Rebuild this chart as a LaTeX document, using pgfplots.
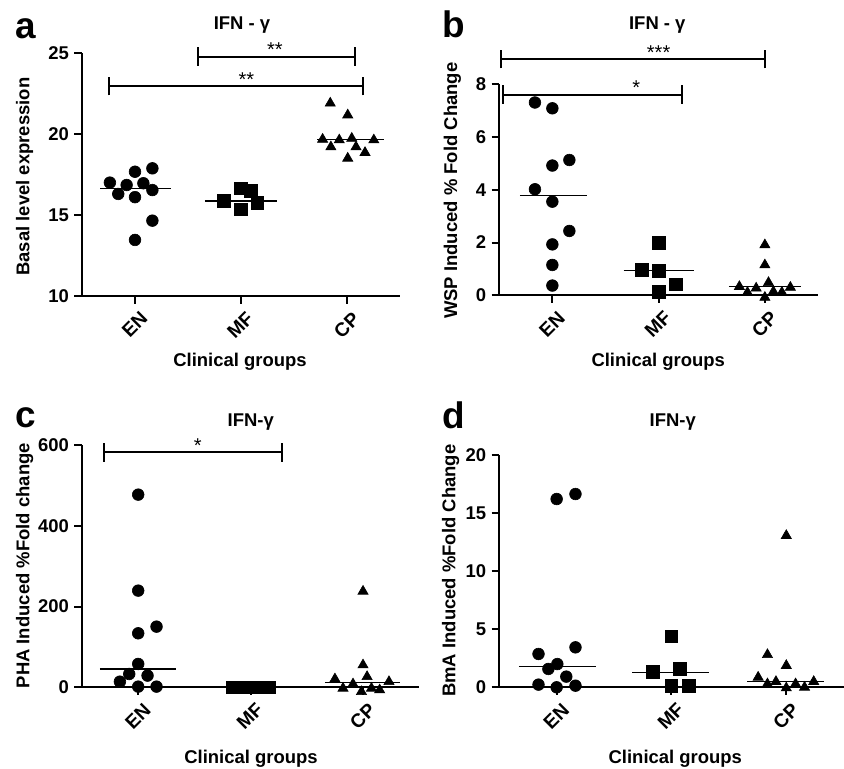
\documentclass[border=0pt]{standalone}
\usepackage{fontspec}
\setmainfont{Liberation Sans}
\usepackage{pgfplots}
\pgfplotsset{compat=1.18}

\newcommand\lab{\fontsize{12}{14}\selectfont\bfseries}
\newcommand\letter{\fontsize{24}{26}\selectfont\bfseries}
\newcommand\stars{\fontsize{13}{15}\selectfont}

% significance bracket: x1, x2, y, star x, stars
\newcommand\sigbar[5]{%
  \draw[line width=1.3pt] (axis cs:#1,#3) -- (axis cs:#2,#3);
  \draw[line width=1.3pt] ([yshift=-6pt]axis cs:#1,#3) -- ([yshift=6pt]axis cs:#1,#3);
  \draw[line width=1.3pt] ([yshift=-6pt]axis cs:#2,#3) -- ([yshift=6pt]axis cs:#2,#3);
  \node[anchor=base, font=\stars, inner sep=0pt] at (axis cs:#4,#3) {#5};
}

\pgfplotsset{
  panel/.style={
    scale only axis,
    axis x line=bottom, axis y line=left,
    axis line style={-, line width=1.3pt},
    every tick/.style={black, line width=1.3pt},
    tick align=outside, major tick length=5pt,
    xmin=-0.5, xmax=2.5,
    xtick={0,1,2}, xticklabels={EN,MF,CP},
    x tick label style={rotate=45, anchor=north east, font=\fontsize{12.5}{14}\selectfont\bfseries, inner sep=2pt, yshift=-3pt, xshift=1pt},
    y tick label style={font=\fontsize{12}{14}\selectfont\bfseries},
    /pgf/number format/assume math mode=true,
    clip=false,
  },
  dots/.style={only marks, mark=*, mark size=3.8pt, black},
  sq/.style={only marks, mark=square*, mark size=4.1pt, black},
  tri/.style={only marks, mark=triangle*, mark size=3.8pt, black},
  med/.style={black, line width=0.8pt, no marks},
}

\begin{document}
\begin{tikzpicture}
\useasboundingbox (0,0) rectangle (548.6pt,499.85pt);

% a
\begin{axis}[panel, at={(53.3pt,307.45pt)}, anchor=south west,
  width=206.7pt, height=157.95pt, ymin=10, ymax=25, ytick={10,15,20,25}]
  \addplot[dots] coordinates {(-0.237,17.0) (-0.158,16.3) (-0.079,16.85) (0,17.67) (0,16.1)
    (0.079,16.96) (0.164,17.88) (0.164,16.54) (0.164,14.65) (0,13.46)};
  \addplot[sq] coordinates {(0.84,15.86) (1,16.65) (1.09,16.5) (1,15.35) (1.155,15.76)};
  \addplot[tri] coordinates {(1.842,21.9) (2.007,21.17) (1.77,19.67) (1.848,19.2) (1.927,19.63)
    (2.045,19.73) (2.085,19.2) (2.253,19.63) (2.17,18.85) (2.007,18.5)};
  \addplot[med] coordinates {(-0.33,16.65) (0.34,16.65)};
  \addplot[med] coordinates {(0.66,15.87) (1.34,15.87)};
  \addplot[med] coordinates {(1.72,19.67) (2.35,19.67)};
  \sigbar{0.59}{2.08}{24.77}{1.32}{**}
  \sigbar{-0.25}{2.155}{22.96}{1.05}{**}
\end{axis}

% b
\begin{axis}[panel, at={(324.5pt,307.9pt)}, anchor=south west,
  width=207.2pt, height=137.15pt, ymin=0, ymax=8, ytick={0,2,4,6,8}]
  \addplot[dots] coordinates {(-0.164,7.31) (0,7.09) (0,4.92) (0.16,5.13) (-0.164,4.02)
    (0,3.55) (0.16,2.44) (0,1.93) (0,1.15) (0,0.37)};
  \addplot[sq] coordinates {(1,2.0) (0.843,0.96) (1,0.94) (1.164,0.42) (1,0.14)};
  \addplot[tri] coordinates {(2,1.91) (2,1.15) (1.76,0.33) (1.836,0.11) (1.918,0.27)
    (2.034,0.48) (2.08,0.14) (2.16,0.11) (2.24,0.30) (2,-0.08)};
  \addplot[med] coordinates {(-0.305,3.78) (0.33,3.78)};
  \addplot[med] coordinates {(0.67,0.94) (1.33,0.94)};
  \addplot[med] coordinates {(1.66,0.32) (2.336,0.32)};
  \sigbar{-0.48}{2.0}{8.95}{1.0}{***}
  \sigbar{-0.46}{1.22}{7.61}{0.79}{*}
\end{axis}

% c
\begin{axis}[panel, at={(53.3pt,53.1pt)}, anchor=south west,
  width=219.2pt, height=157.3pt, ymin=0, ymax=600, ytick={0,200,400,600}]
  \addplot[dots] coordinates {(0,477.7) (0,239.7) (0,133.9) (0.163,150.4) (0,57.9)
    (-0.08,33) (0.083,29) (-0.163,14) (0,1.7) (0.163,1.7)};
  \addplot[sq] coordinates {(0.84,0) (0.92,0) (1,0) (1.08,0) (1.16,0)};
  \addplot[tri] coordinates {(2,238) (2,55.3) (1.75,20.6) (2.036,26.3) (1.822,-2.5)
    (1.911,8.2) (1.986,-10.9) (2.075,-2.5) (2.148,-6.7) (2.231,13.9)};
  \addplot[med] coordinates {(-0.34,45.5) (0.335,45.5)};
  \addplot[med] coordinates {(0.67,0) (1.34,0)};
  \addplot[med] coordinates {(1.66,11.4) (2.33,11.4)};
  \sigbar{-0.3}{1.28}{582.7}{0.53}{*}
\end{axis}

% d
\begin{axis}[panel, at={(324.5pt,53.1pt)}, anchor=south west,
  width=223.9pt, height=151.0pt, ymin=0, ymax=20, ytick={0,5,10,15,20}]
  \addplot[dots] coordinates {(0,16.21) (0.164,16.64) (0.164,3.44) (-0.158,2.87) (0.006,2.0)
    (-0.072,1.58) (0.084,0.92) (-0.158,0.23) (0,0) (0.164,0.14)};
  \addplot[sq] coordinates {(1,4.39) (0.836,1.35) (1.075,1.58) (1,0.14) (1.153,0.14)};
  \addplot[tri] coordinates {(2,13.06) (1.836,2.81) (2,1.87) (1.755,0.86) (1.836,0.29)
    (1.91,0.49) (2,-0.06) (2.081,0.29) (2.159,0) (2.239,0.49)};
  \addplot[med] coordinates {(-0.33,1.78) (0.34,1.78)};
  \addplot[med] coordinates {(0.66,1.29) (1.33,1.29)};
  \addplot[med] coordinates {(1.66,0.52) (2.33,0.52)};
\end{axis}

% text placed in reference pixel coordinates
\begin{scope}[x=0.65pt, y=-0.65pt, yshift=499.85pt]
  \node[anchor=base, font=\letter] at (25.8,38.3) {a};
  \node[anchor=base, font=\letter] at (453.7,37.3) {b};
  \node[anchor=base, font=\letter] at (25.8,427.3) {c};
  \node[anchor=base, font=\letter] at (453.7,429) {d};

  \node[anchor=base, font=\lab] at (242,29.3) {IFN - γ};
  \node[anchor=base, font=\lab] at (657.3,29.3) {IFN - γ};
  \node[anchor=base, font=\lab] at (250.7,426.7) {IFN-γ};
  \node[anchor=base, font=\lab] at (672.7,426.7) {IFN-γ};

  \node[anchor=base, font=\lab] at (240,367) {Clinical groups};
  \node[anchor=base, font=\lab] at (658.2,366.7) {Clinical groups};
  \node[anchor=base, font=\lab] at (251,764) {Clinical groups};
  \node[anchor=base, font=\lab] at (675.3,764) {Clinical groups};

  \node[anchor=base, rotate=90, font=\lab] at (29.3,176.7) {Basal level expression};
  \node[anchor=base, rotate=90, font=\lab] at (457,190.8) {WSP Induced \% Fold Change};
  \node[anchor=base, rotate=90, font=\lab] at (29.3,565.7) {PHA Induced \%Fold change};
  \node[anchor=base, rotate=90, font=\lab] at (455.3,570.7) {BmA Induced \%Fold Change};
\end{scope}
\end{tikzpicture}
\end{document}
